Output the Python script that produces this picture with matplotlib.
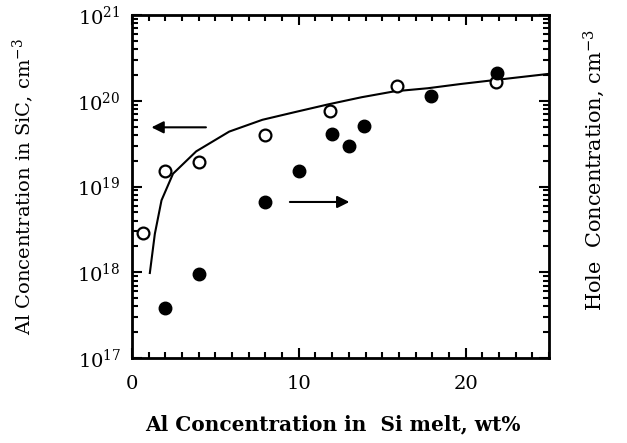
import matplotlib
matplotlib.use("Agg")
import matplotlib.pyplot as plt
from matplotlib.ticker import LogLocator, MultipleLocator, NullFormatter
import numpy as np

plt.rcParams['font.family'] = ['DejaVu Serif']
plt.rcParams['mathtext.fontset'] = 'dejavuserif'

# Al in SiC (open circles)
open_x = [0.65, 2.0, 4.0, 8.0, 11.9, 15.9, 21.8]
open_y = [2.9e18, 1.5e19, 1.95e19, 4.0e19, 7.6e19, 1.5e20, 1.65e20]

# hole concentration (filled circles)
fill_x = [2.0, 4.0, 8.0, 10.0, 12.0, 13.0, 13.9, 17.9, 21.9]
fill_y = [3.8e17, 9.5e17, 6.6e18, 1.5e19, 4.1e19, 2.95e19, 5.1e19, 1.14e20, 2.1e20]

# fitted curve
curve_x = [1.07, 1.37, 1.77, 2.46, 3.85, 5.83, 7.82, 9.80, 11.79, 13.77,
           15.75, 17.74, 19.72, 21.7, 25.0]
curve_y = [9.8e17, 2.8e18, 6.9e18, 1.41e19, 2.57e19, 4.37e19, 6.0e19, 7.4e19,
           9.1e19, 1.10e20, 1.29e20, 1.40e20, 1.57e20, 1.74e20, 2.06e20]

fig = plt.figure(figsize=(6.27, 4.43), dpi=100)
ax = fig.add_axes([0.2105, 0.1919, 0.6651, 0.7742])

ax.plot(curve_x, curve_y, color='black', lw=1.5)
ax.plot(open_x, open_y, 'o', mfc='white', mec='black', mew=1.6, ms=8.5)
ax.plot(fill_x, fill_y, 'o', mfc='black', mec='black', ms=9)

ax.set_yscale('log')
ax.set_xlim(0, 25)
ax.set_ylim(1e17, 1e21)
ax.xaxis.set_major_locator(MultipleLocator(10))
ax.xaxis.set_minor_locator(MultipleLocator(1))
ax.yaxis.set_major_locator(LogLocator(base=10, numticks=10))
ax.yaxis.set_minor_locator(LogLocator(base=10, subs=np.arange(2, 10), numticks=10))
ax.yaxis.set_minor_formatter(NullFormatter())
ax.tick_params(which='both', direction='in', top=True, width=1.5)
ax.tick_params(which='major', length=7, labelsize=14)
ax.tick_params(which='minor', length=4)
ax.tick_params(axis='y', which='major', pad=8)
ax.tick_params(axis='x', which='major', pad=12)
for s in ax.spines.values():
    s.set_linewidth(2)

ax2 = ax.twinx()
ax2.set_yscale('log')
ax2.set_ylim(1e17, 1e21)
ax2.yaxis.set_major_locator(LogLocator(base=10, numticks=10))
ax2.yaxis.set_minor_locator(LogLocator(base=10, subs=np.arange(2, 10), numticks=10))
ax2.yaxis.set_major_formatter(NullFormatter())
ax2.yaxis.set_minor_formatter(NullFormatter())
ax2.tick_params(which='both', direction='in', width=1.5)
ax2.tick_params(which='major', length=7)
ax2.tick_params(which='minor', length=4)
ax2.set_ylabel('Hole  Concentration, cm$^{-3}$', fontsize=15)
ax2.yaxis.set_label_coords(1.079, 0.548)

ax.set_ylabel('Al Concentration in SiC, cm$^{-3}$', fontsize=14, labelpad=30)
ax.set_xlabel('Al Concentration in  Si melt, wt%', fontsize=14.5,
              fontweight='bold', labelpad=18)
ax.xaxis.set_label_coords(0.482, -0.165)

ax.annotate('', xy=(1.0, 4.9e19), xytext=(4.6, 4.9e19),
            arrowprops=dict(arrowstyle='-|>', color='black', lw=1.5,
                            mutation_scale=18))
ax.annotate('', xy=(13.2, 6.6e18), xytext=(9.3, 6.6e18),
            arrowprops=dict(arrowstyle='-|>', color='black', lw=1.5,
                            mutation_scale=18))

fig.savefig('out.png', dpi=100)
